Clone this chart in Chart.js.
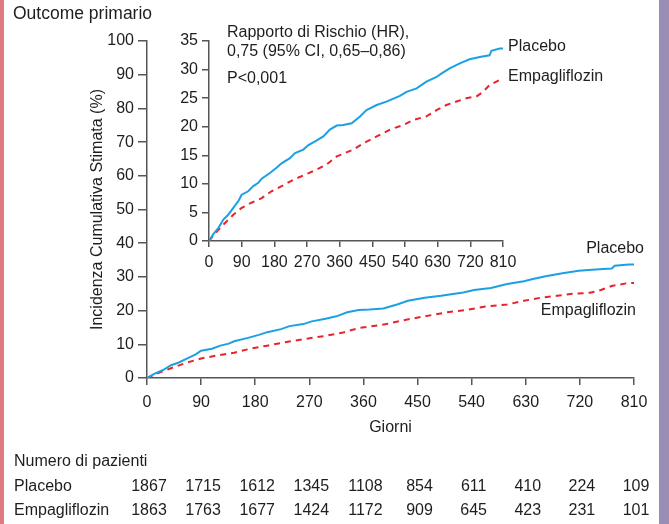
<!DOCTYPE html>
<html>
<head>
<meta charset="utf-8">
<script src="https://cdn.jsdelivr.net/npm/chart.js@4/dist/chart.umd.min.js"></script>
<style>
  body { margin: 0; background: #fff; }
  #box { position: relative; width: 669px; height: 524px; overflow: hidden; background: #fff; }
  #box canvas { position: absolute; left: 0; top: 0; }
  .bordoSx { position: absolute; left: 0; top: 0; width: 4px; height: 524px; background: #e07a82; }
  .bordoDx { position: absolute; left: 659px; top: 0; width: 10px; height: 524px; background: #9b8eb6; }
</style>
</head>
<body>
<div id="box">
  <canvas id="principale" width="669" height="524"></canvas>
  <canvas id="inserto" width="669" height="524"></canvas>
  <div class="bordoSx"></div>
  <div class="bordoDx"></div>
</div>
<script>
// Dati (curve di Kaplan-Meier, %)
let placeboGiorni = [0, 12, 26, 40, 53, 67, 81, 90, 108, 122, 136, 145, 168, 186, 200, 223, 237, 260, 274, 297, 315, 333, 352, 370, 393, 416, 434, 462, 489, 526, 544, 572, 599, 627, 640, 663, 691, 718, 746, 773, 778, 801, 810];
let placeboValori = [0, 1.2, 2.3, 3.8, 4.6, 5.8, 7.0, 8.1, 8.7, 9.6, 10.2, 10.9, 11.9, 12.8, 13.6, 14.5, 15.4, 16.0, 16.8, 17.6, 18.3, 19.5, 20.2, 20.3, 20.6, 21.8, 22.9, 23.8, 24.4, 25.4, 26.1, 26.7, 27.9, 28.7, 29.3, 30.2, 31.1, 31.8, 32.2, 32.5, 33.3, 33.7, 33.7];

let empaGiorni = [0, 15, 40, 67, 90, 117, 145, 172, 200, 232, 264, 297, 324, 352, 398, 425, 462, 499, 535, 563, 599, 627, 654, 682, 709, 737, 755, 773, 801, 810];
let empaValori = [0, 1.2, 2.9, 4.6, 5.8, 6.7, 7.5, 8.7, 9.6, 10.7, 11.6, 12.5, 13.4, 14.8, 16.0, 17.1, 18.3, 19.5, 20.3, 21.2, 21.8, 22.9, 23.8, 24.4, 25.0, 25.3, 26.1, 27.3, 28.2, 28.2];

// Numero di pazienti a rischio
let giorniTabella = [0, 90, 180, 270, 360, 450, 540, 630, 720, 810];
let rischioPlacebo = [1867, 1715, 1612, 1345, 1108, 854, 611, 410, 224, 109];
let rischioEmpa = [1863, 1763, 1677, 1424, 1172, 909, 645, 423, 231, 101];

let BLU = '#1ba1e2';
let ROSSO = '#e8232b';
let ASSE = '#555555';
let TESTO = '#1e1e1e';
let FONT = "'Liberation Sans', Arial, sans-serif";

Chart.defaults.font.family = FONT;
Chart.defaults.font.size = 16;
Chart.defaults.color = TESTO;

let punti = (xs, ys) => xs.map((g, i) => ({x: g, y: ys[i]}));

let serie = () => [
  {
    label: 'Placebo',
    data: punti(placeboGiorni, placeboValori),
    borderColor: BLU,
    borderWidth: 2,
    pointRadius: 0,
    tension: 0
  },
  {
    label: 'Empagliflozin',
    data: punti(empaGiorni, empaValori),
    borderColor: ROSSO,
    borderWidth: 2,
    borderDash: [6, 5],
    pointRadius: 0,
    tension: 0
  }
];

let stileGriglia = (lung) => ({ drawOnChartArea: false, drawTicks: true, tickLength: lung, color: ASSE, lineWidth: 1.5 });

// Testi del grafico principale e tabella
let testiPrincipale = {
  id: 'testiPrincipale',
  afterDraw(chart) {
    let ctx = chart.ctx;
    let x = chart.scales.x;
    let y = chart.scales.y;
    ctx.save();
    ctx.fillStyle = TESTO;
    ctx.textBaseline = 'middle';
    ctx.textAlign = 'left';
    ctx.font = '17.5px ' + FONT;
    ctx.fillText('Outcome primario', 13, 14);
    ctx.font = '16px ' + FONT;
    ctx.textAlign = 'right';
    ctx.fillText('Placebo', x.right + 10, y.getPixelForValue(38.5));
    ctx.fillText('Empagliflozin', x.right + 2, y.getPixelForValue(19.9));

    ctx.textAlign = 'left';
    ctx.fillText('Numero di pazienti', 14, 462);
    ctx.fillText('Placebo', 14, 487);
    ctx.fillText('Empagliflozin', 14, 511);
    ctx.textAlign = 'center';
    giorniTabella.forEach((g, i) => {
      let px = x.getPixelForValue(g) + 2;
      ctx.fillText(String(rischioPlacebo[i]), px, 487);
      ctx.fillText(String(rischioEmpa[i]), px, 511);
    });
    ctx.restore();
  }
};

let testiInserto = {
  id: 'testiInserto',
  afterDraw(chart) {
    let ctx = chart.ctx;
    let x = chart.scales.x;
    ctx.save();
    ctx.fillStyle = TESTO;
    ctx.font = '16px ' + FONT;
    ctx.textBaseline = 'middle';
    ctx.textAlign = 'left';
    ctx.fillText('Rapporto di Rischio (HR),', 227, 33);
    ctx.fillText('0,75 (95% CI, 0,65\u20130,86)', 227, 52);
    ctx.fillText('P<0,001', 227, 79);
    ctx.fillText('Placebo', x.right + 5, 47);
    ctx.fillText('Empagliflozin', x.right + 5, 77);
    ctx.restore();
  }
};

new Chart(document.getElementById('principale'), {
  type: 'line',
  data: { datasets: serie() },
  options: {
    responsive: false,
    animation: false,
    layout: { padding: { left: 0, top: 41, right: 35, bottom: 0 } },
    plugins: { legend: { display: false }, tooltip: { enabled: false } },
    scales: {
      x: {
        type: 'linear',
        min: 0,
        max: 810,
        afterFit: s => { s.height = 146; },
        ticks: { stepSize: 90, autoSkip: false, maxRotation: 0, padding: 8, color: TESTO },
        grid: stileGriglia(7),
        border: { color: ASSE, width: 1.5 },
        title: { display: true, text: 'Giorni', color: TESTO, font: { size: 16 }, padding: { top: 0, bottom: 87 } }
      },
      y: {
        min: 0,
        max: 100,
        afterFit: s => { s.width = 147; },
        ticks: { stepSize: 10, padding: 4, color: TESTO },
        grid: stileGriglia(9),
        border: { color: ASSE, width: 1.5 },
        title: { display: true, text: 'Incidenza Cumulativa Stimata (%)', color: TESTO, font: { size: 16 }, padding: { top: 88, bottom: 0 } }
      }
    }
  },
  plugins: [testiPrincipale]
});

new Chart(document.getElementById('inserto'), {
  type: 'line',
  data: { datasets: serie() },
  options: {
    responsive: false,
    animation: false,
    layout: { padding: { left: 149, top: 41, right: 166, bottom: 253 } },
    plugins: { legend: { display: false }, tooltip: { enabled: false } },
    scales: {
      x: {
        type: 'linear',
        min: 0,
        max: 810,
        afterFit: s => { s.height = 30; },
        ticks: { stepSize: 90, autoSkip: false, maxRotation: 0, padding: 6, color: TESTO },
        grid: stileGriglia(6),
        border: { color: ASSE, width: 1.5 }
      },
      y: {
        min: 0,
        max: 35,
        afterFit: s => { s.width = 60; },
        ticks: { stepSize: 5, padding: 4, color: TESTO },
        grid: stileGriglia(7),
        border: { color: ASSE, width: 1.5 }
      }
    }
  },
  plugins: [testiInserto]
});
</script>
</body>
</html>
